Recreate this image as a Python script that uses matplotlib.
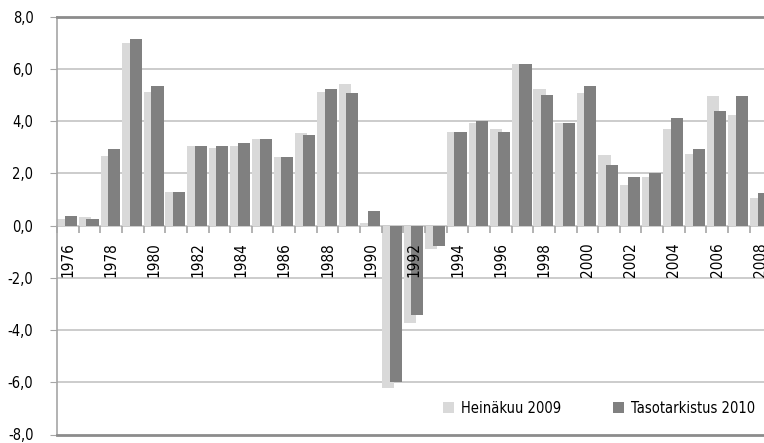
import matplotlib
matplotlib.use("Agg")
import matplotlib.pyplot as plt
import numpy as np

plt.rcParams['font.family'] = ['DejaVu Sans']
plt.rcParams['font.stretch'] = 'condensed'

years = list(range(1976, 2009))
heinakuu_2009 = [0.27, 0.34, 2.65, 7.00, 5.12, 1.30, 3.06, 2.99, 3.06, 3.32,
                 2.64, 3.55, 5.12, 5.43, 0.11, -6.22, -3.73, -0.90, 3.59, 3.94,
                 3.71, 6.19, 5.24, 3.94, 5.08, 2.71, 1.57, 1.87, 3.71, 2.75,
                 4.97, 4.24, 1.07]
tasotarkistus_2010 = [0.38, 0.27, 2.94, 7.15, 5.35, 1.30, 3.06, 3.06, 3.17, 3.32,
                      2.64, 3.48, 5.24, 5.08, 0.57, -6.00, -3.43, -0.79, 3.59, 4.01,
                      3.59, 6.19, 5.01, 3.94, 5.35, 2.33, 1.87, 2.03, 4.13, 2.94,
                      4.39, 4.97, 1.26]
y_ticks = [-8, -6, -4, -2, 0, 2, 4, 6, 8]

x = np.arange(len(years))
fig = plt.figure(figsize=(7.64, 4.43), dpi=100)
ax = fig.add_axes([57 / 764, 8.5 / 443, 1 - 57 / 764, (434.5 - 16.7) / 443])

w = 0.56
ax.bar(x - 0.21, heinakuu_2009, width=w, color='#d9d9d9', label='Heinäkuu 2009', zorder=0.5)
ax.bar(x + 0.14, tasotarkistus_2010, width=w, color='#808080', label='Tasotarkistus 2010', zorder=0.6)

ax.set_yticks(y_ticks)
ax.set_yticklabels([('%.1f' % v).replace('.', ',') for v in y_ticks], fontsize=10.5)
for v in y_ticks[1:-1]:
    if v != 0:
        ax.axhline(v, color='#c4c4c4', lw=1.2, zorder=0.3)
ax.axhline(-8, color='#8c8c8c', lw=2, zorder=4, clip_on=False)

ax.spines['top'].set_color('#8c8c8c')
ax.spines['top'].set_linewidth(2)
ax.spines['right'].set_visible(False)
ax.spines['left'].set_color('#a6a6a6')
ax.spines['left'].set_linewidth(1.2)
ax.spines['bottom'].set_position(('data', 0))
ax.spines['bottom'].set_color('#c4c4c4')
ax.spines['bottom'].set_linewidth(1.2)
ax.spines['bottom'].set_zorder(0.4)

ax.tick_params(axis='y', length=5, color='#a6a6a6', pad=12, labelcolor='black')
ax.set_xticks(np.arange(len(years) + 1) - 0.5)
ax.set_xticklabels([])
ax.tick_params(axis='x', which='major', length=5, color='#a6a6a6', width=1.2)
ax.set_xticks(x[::2], minor=True)
ax.set_xticklabels([str(y) for y in years[::2]], minor=True, rotation=90,
                   fontsize=11, va='top')
ax.tick_params(axis='x', which='minor', length=0, pad=12)

# limits after the ticks, the last year is cut by the picture edge
ax.set_ylim(-8, 8)
ax.set_xlim(-0.5, 32.16)

ax.legend(loc='lower right', bbox_to_anchor=(1.0 + 10 / 707, 0.0), ncol=2, frameon=False,
          fontsize=10.5, handlelength=0.7, handleheight=0.7, handletextpad=0.5,
          columnspacing=3.6, borderaxespad=0.9)

fig.savefig('out.png', dpi=100)
